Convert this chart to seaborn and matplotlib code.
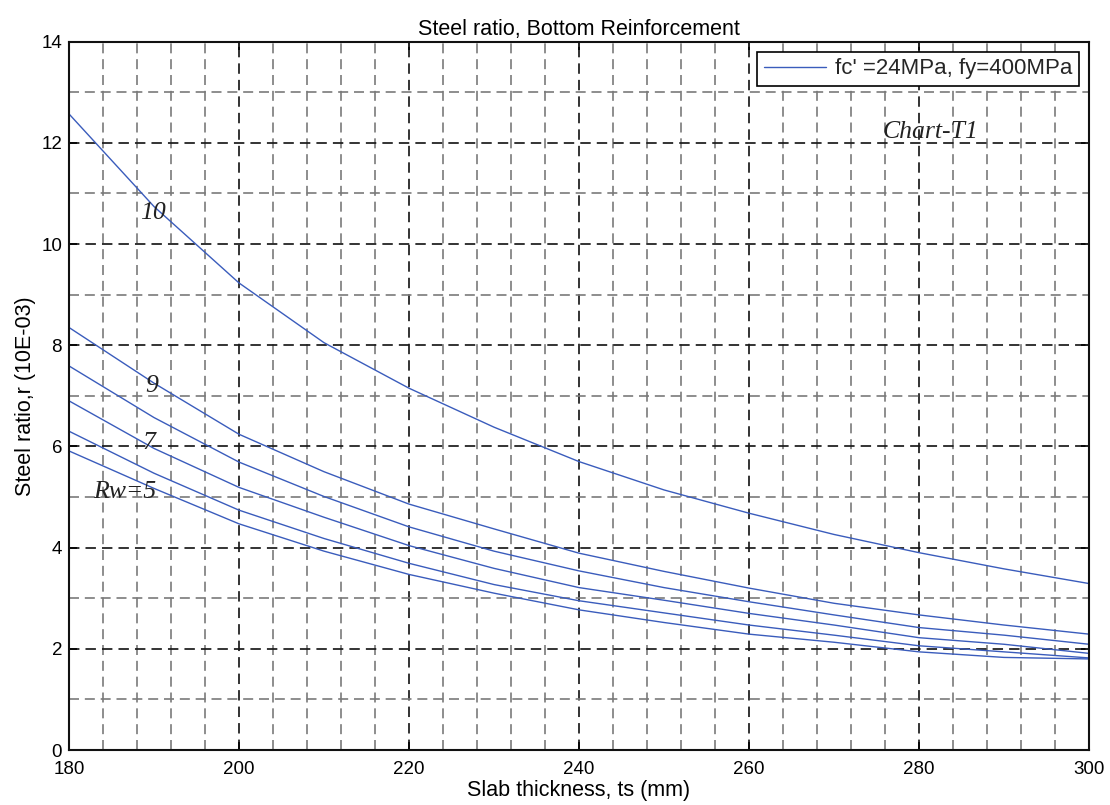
import matplotlib
matplotlib.use("Agg")
import matplotlib.pyplot as plt
import seaborn as sns
import pandas as pd
from matplotlib.ticker import MultipleLocator

# ---- data ----
thickness = [180, 190, 200, 210, 220, 230, 240, 250, 260, 270, 280, 290, 300]
rw10 = [12.57, 10.74, 9.23, 8.05, 7.15, 6.38, 5.70, 5.14, 4.68, 4.26, 3.90, 3.58, 3.29]
rw9 = [8.35, 7.25, 6.24, 5.50, 4.86, 4.37, 3.89, 3.53, 3.20, 2.90, 2.67, 2.47, 2.29]
rw8 = [7.59, 6.57, 5.69, 5.01, 4.41, 3.93, 3.54, 3.21, 2.93, 2.67, 2.42, 2.27, 2.09]
rw7 = [6.90, 5.96, 5.19, 4.60, 4.04, 3.59, 3.21, 2.96, 2.70, 2.47, 2.22, 2.09, 1.91]
rw6 = [6.30, 5.47, 4.74, 4.18, 3.69, 3.27, 2.95, 2.71, 2.47, 2.27, 2.06, 1.94, 1.82]
rw5 = [5.91, 5.17, 4.47, 3.93, 3.47, 3.10, 2.77, 2.52, 2.29, 2.13, 1.94, 1.83, 1.80]
series = {10: rw10, 9: rw9, 8: rw8, 7: rw7, 6: rw6, 5: rw5}

curve_labels = ["10", "9", "7", "Rw=5"]
curve_label_pos = [(189.9, 10.61), (189.7, 7.19), (189.4, 6.06), (186.5, 5.10)]
legend_label = "fc' =24MPa, fy=400MPa"
title = "Steel ratio, Bottom Reinforcement"
xlabel = "Slab thickness, ts (mm)"
ylabel = "Steel ratio,r (10E-03)"
chart_tag = "Chart-T1"

rows = []
for rw, vals in series.items():
    for t, v in zip(thickness, vals):
        rows.append({"ts": t, "r": v, "Rw": rw})
df = pd.DataFrame(rows)

sns.set_theme(style="white")
plt.rcParams["font.family"] = ["Liberation Sans", "DejaVu Sans"]

fig = plt.figure(figsize=(11.1, 8.05), dpi=100)
ax = fig.add_axes([0.0622, 0.0683, 0.9189, 0.88])

line_color = "#3a5cbc"
sns.lineplot(data=df, x="ts", y="r", units="Rw", estimator=None,
             color=line_color, linewidth=1.0, ax=ax, legend=False)

ax.set_xlim(180, 300)
ax.set_ylim(0, 14)
ax.xaxis.set_major_locator(MultipleLocator(20))
ax.xaxis.set_minor_locator(MultipleLocator(4))
ax.yaxis.set_major_locator(MultipleLocator(2))
ax.yaxis.set_minor_locator(MultipleLocator(1))

ax.grid(which="major", color="#1a1a1a", linestyle=(0, (6, 3.5)), linewidth=1.25)
ax.grid(which="minor", color="#7a7a7a", linestyle=(0, (6, 3.5)), linewidth=1.2)
ax.set_axisbelow(True)

ax.tick_params(which="major", direction="in", length=6, width=1.2,
               top=True, right=True, bottom=True, left=True,
               labelsize=13.5, colors="black")
ax.tick_params(axis="x", which="major", pad=8)
ax.tick_params(axis="y", which="major", pad=5)
ax.tick_params(which="minor", length=0)
for s in ax.spines.values():
    s.set_color("#111111")
    s.set_linewidth(1.5)

ax.set_title(title, fontsize=15.5, pad=5, color="black")
ax.set_xlabel(xlabel, fontsize=15.5, labelpad=1, color="black")
ax.set_ylabel(ylabel, fontsize=15.5, labelpad=4, color="black")

for txt, (x, y) in zip(curve_labels, curve_label_pos):
    ax.text(x, y, txt, fontsize=18.5, family="Liberation Serif", style="italic",
            ha="center", va="center", color="#222222")
ax.text(281.3, 12.22, chart_tag, fontsize=18.5, family="Liberation Serif",
        style="italic", ha="center", va="center", color="#222222")

leg = ax.legend([ax.lines[0]], [legend_label], loc="upper right",
                fontsize=16, frameon=True, fancybox=False, framealpha=1,
                edgecolor="black", handlelength=2.8, borderaxespad=0.45,
                borderpad=0.3, handletextpad=0.4)
leg.get_frame().set_linewidth(1.2)

fig.savefig("out.png", dpi=100)
